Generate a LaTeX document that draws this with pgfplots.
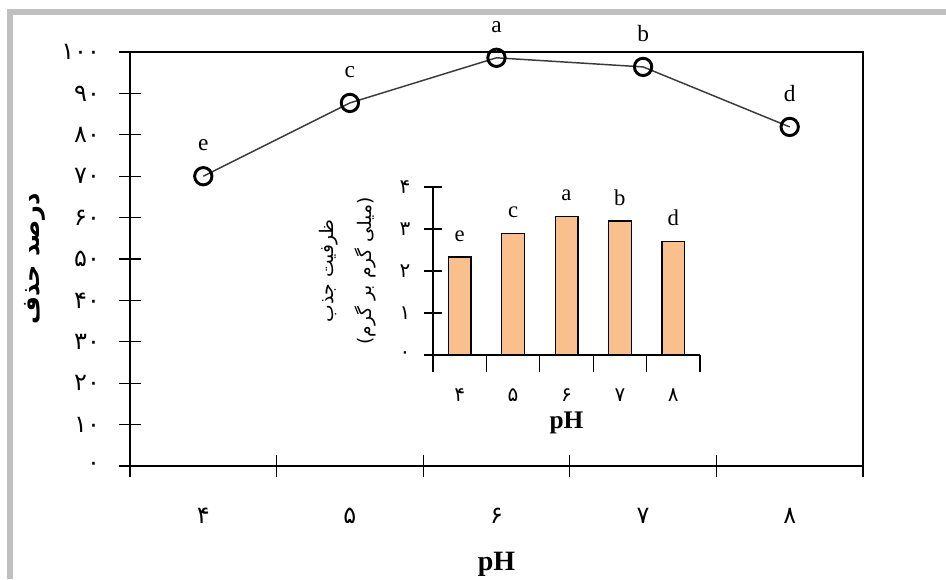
\documentclass[border=0pt]{standalone}
\usepackage{fontspec}
\setmainfont{Liberation Serif}
\newfontfamily\fa[Script=Arabic]{DejaVu Sans}
\TeXXeTstate=1
\usepackage{pgfplots}
\pgfplotsset{compat=1.18}
\definecolor{barfill}{HTML}{F9C08E}
\definecolor{framegray}{HTML}{C0C0C0}
\definecolor{linegray}{HTML}{3A3A3A}

\begin{document}
\begin{tikzpicture}
% page size: 1 px of the reference = 0.75pt, origin at the main axis' lower left corner
\useasboundingbox (-97.5pt,-84.75pt) rectangle (612pt,349.5pt);
\fill[framegray] (-92.25pt,338.25pt) rectangle (612pt,342.75pt);
\fill[framegray] (-92.25pt,-84.75pt) rectangle (-87.75pt,342.75pt);

% main chart
\begin{axis}[
  at={(0pt,0pt)}, anchor=south west,
  scale only axis, width=549.75pt, height=310.5pt,
  xmin=0.5, xmax=5.5, ymin=0, ymax=100,
  clip=false,
  axis line style={black, line width=1.1pt},
  tick pos=left, tick align=center, major tick length=16pt,
  tick style={black, line width=1pt},
  xtick={0.5,1.5,...,5.5},
  x tick label as interval,
  xticklabels={۴,۵,۶,۷,۸},
  ytick={0,10,...,100},
  yticklabels={۰,۱۰,۲۰,۳۰,۴۰,۵۰,۶۰,۷۰,۸۰,۹۰,۱۰۰},
  xticklabel style={font=\fa\fontsize{18}{18}\selectfont, yshift=-20pt},
  yticklabel style={font=\fa\fontsize{18}{18}\selectfont, xshift=-11pt},
  xlabel={pH},
  xlabel style={at={([yshift=-73.5pt]axis description cs:0.5,0)}, anchor=center,
    font=\bfseries\fontsize{21}{21}\selectfont},
  ylabel={\fa\bfseries\beginR درصد حذف\endR},
  ylabel style={at={([xshift=-71.25pt]axis description cs:0,0.5)}, anchor=center,
    font=\fontsize{18}{18}\selectfont},
]
\addplot[draw=linegray, line width=1.1pt, mark=o, mark size=6.5pt,
  mark options={draw=black, line width=2.2pt, fill=none},
  nodes near coords, point meta=explicit symbolic,
  every node near coord/.style={anchor=base, yshift=19pt, text=black,
    font=\fontsize{17.5}{17.5}\selectfont}]
  coordinates {(1,70)[e] (2,87.7)[c] (3,98.6)[a] (4,96.4)[b] (5,81.9)[d]};
\end{axis}

% inset bar chart
\begin{axis}[
  at={(227.25pt,83.25pt)}, anchor=south west,
  scale only axis, width=200.25pt, height=126pt,
  xmin=0.5, xmax=5.5, ymin=0, ymax=4,
  clip=false,
  axis x line=bottom, axis y line=left,
  axis line style={-, black, line width=1pt},
  tick align=center, major tick length=13pt,
  tick style={black, line width=1pt},
  xtick={0.5,1.5,...,5.5},
  x tick label as interval,
  xticklabels={۴,۵,۶,۷,۸},
  ytick={0,1,...,4},
  yticklabels={۰,۱,۲,۳,۴},
  xticklabel style={font=\fa\fontsize{15}{15}\selectfont, yshift=-9pt},
  yticklabel style={font=\fa\fontsize{15}{15}\selectfont, xshift=-7pt},
  xlabel={pH},
  xlabel style={at={([yshift=-51pt]axis description cs:0.5,0)}, anchor=center,
    font=\bfseries\fontsize{19}{19}\selectfont},
  ylabel={\fa\beginR ظرفیت جذب\endR\\\fa\beginR(میلی گرم بر گرم)\endR},
  ylabel style={at={([xshift=-64pt]axis description cs:0,0.5)}, anchor=center,
    align=center, font=\fontsize{14}{29}\selectfont},
  ybar, bar width=17pt,
  nodes near coords, point meta=explicit symbolic,
  every node near coord/.style={anchor=base, yshift=12pt, text=black,
    font=\fontsize{17}{17}\selectfont},
]
\addplot[fill=barfill, draw=black, line width=1pt]
  coordinates {(1,2.33)[e] (2,2.9)[c] (3,3.29)[a] (4,3.19)[b] (5,2.71)[d]};
\end{axis}
\end{tikzpicture}
\end{document}
